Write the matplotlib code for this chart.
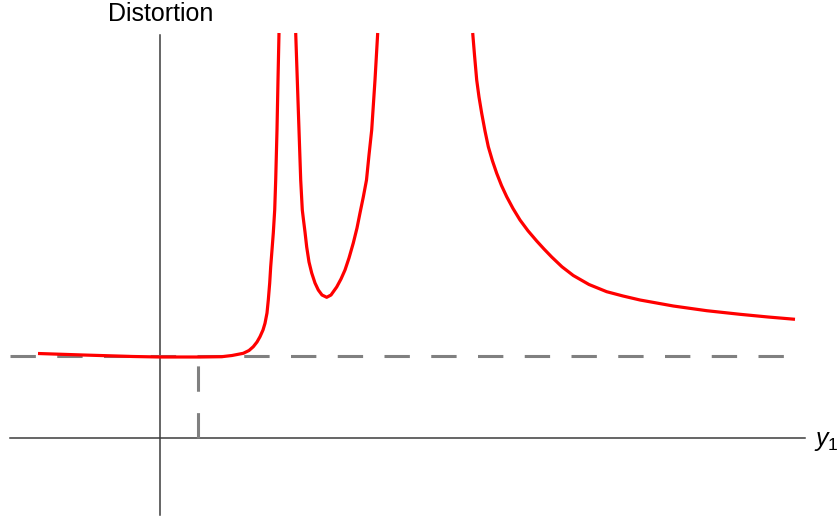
import matplotlib
matplotlib.use("Agg")
import matplotlib.pyplot as plt

plt.rcParams['font.family'] = ['Liberation Sans', 'DejaVu Sans']
plt.rcParams['mathtext.fontset'] = 'custom'
plt.rcParams['mathtext.it'] = 'Liberation Sans:italic'
plt.rcParams['mathtext.rm'] = 'Liberation Sans'

# distortion curve (three branches between the poles)
branch1_x = [-1.22, -0.77, -0.27, 0.0, 0.40, 0.617, 0.72, 0.833, 0.89, 0.933,
             0.97, 1.00, 1.03, 1.05, 1.07, 1.083, 1.097, 1.107, 1.12, 1.133,
             1.147, 1.157, 1.17, 1.18, 1.19]
branch1_y = [0.845, 0.83, 0.815, 0.81, 0.81, 0.813, 0.825, 0.847, 0.875, 0.913,
             0.96, 1.013, 1.08, 1.147, 1.25, 1.38, 1.55, 1.713, 1.88, 2.05,
             2.28, 2.58, 3.08, 3.58, 4.05]

branch2_x = [1.357, 1.373, 1.39, 1.407, 1.423, 1.435, 1.45, 1.467, 1.49, 1.517,
             1.55, 1.583, 1.62, 1.667, 1.71, 1.767, 1.81, 1.85, 1.89, 1.933,
             1.97, 2.00, 2.033, 2.065, 2.09, 2.117, 2.15, 2.177]
branch2_y = [4.05, 3.58, 3.08, 2.58, 2.28, 2.18, 2.06, 1.91, 1.76, 1.65,
             1.55, 1.48, 1.43, 1.407, 1.43, 1.51, 1.59, 1.68, 1.80, 1.95,
             2.10, 2.25, 2.41, 2.58, 2.83, 3.08, 3.58, 4.05]

branch3_x = [3.127, 3.145, 3.167, 3.19, 3.217, 3.25, 3.283, 3.325, 3.367, 3.415,
             3.467, 3.53, 3.60, 3.68, 3.767, 3.84, 3.917, 4.02, 4.133, 4.29,
             4.467, 4.63, 4.80, 5.133, 5.467, 5.80, 6.08, 6.35]
branch3_y = [4.05, 3.83, 3.58, 3.41, 3.247, 3.07, 2.913, 2.77, 2.647, 2.525,
             2.413, 2.295, 2.18, 2.072, 1.97, 1.89, 1.81, 1.712, 1.625, 1.535,
             1.463, 1.42, 1.38, 1.32, 1.273, 1.237, 1.21, 1.187]

level_y = 0.82      # minimum distortion level
level_x = 0.38      # y1 where it is reached

fig = plt.figure(figsize=(8.38, 5.30), dpi=100)
ax = fig.add_axes([0, 0, 1, 1])
ax.set_xlim(-1.6, 6.78)
ax.set_ylim(-0.92, 4.38)
ax.axis('off')

# axes drawn as plain lines
ax.plot([0, 0], [-0.77, 4.03], color='#3c3c3c', lw=1.1)
ax.plot([-1.5, 6.45], [0, 0], color='#3c3c3c', lw=1.1)

# dashed guides
ax.plot([-1.5, 6.35], [level_y, level_y], color='#808080', lw=2.2,
        linestyle=(0, (8.3, 7)))
ax.plot([level_x, level_x], [0, level_y], color='#808080', lw=2.2,
        linestyle=(0, (8.3, 7)))

for bx, by in [(branch1_x, branch1_y), (branch2_x, branch2_y), (branch3_x, branch3_y)]:
    ax.plot(bx, by, color='#ff0000', lw=2.3, solid_capstyle='butt',
            solid_joinstyle='round')

ax.text(0.01, 4.24, 'Distortion', fontsize=18, ha='center', va='center')
ax.text(6.54, -0.03, '$y_1$', fontsize=18, ha='left', va='center')

fig.savefig('out.png', dpi=100)
